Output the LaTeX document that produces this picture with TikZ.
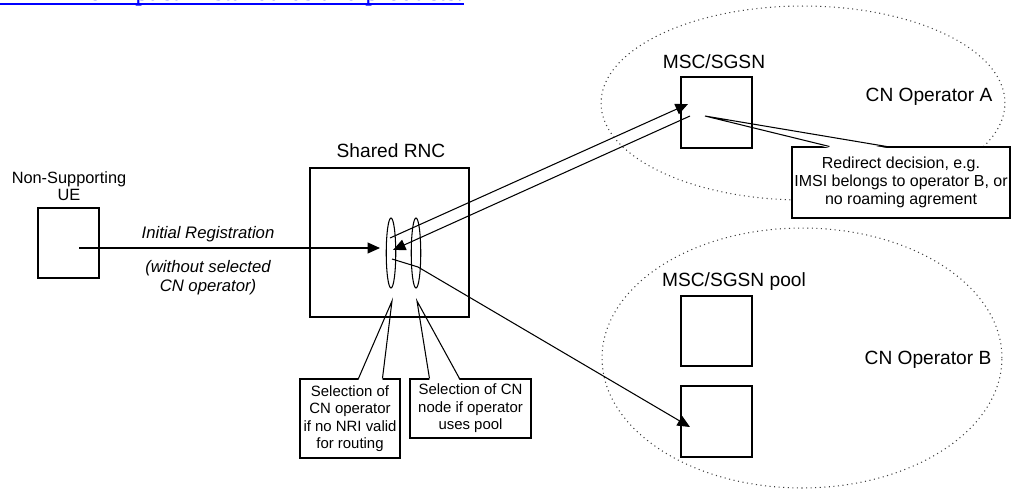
\documentclass[tikz,border=0pt]{standalone}
\usepackage{fontspec}
\setmainfont{Liberation Sans}
\newfontfamily\linkfont{Liberation Serif}
\usetikzlibrary{shapes,arrows.meta}

\begin{document}
\begin{tikzpicture}[x=0.02cm,y=-0.02cm,line width=0.6pt,inner sep=0pt,
  unit/.style={rectangle,draw=black},
  picker/.style={ellipse,draw=black,minimum width=0.19cm,minimum height=1.4cm},
  cnzone/.style={ellipse,draw=black!75,dotted,line width=0.6pt},
  note/.style={rectangle,draw=black,fill=white,align=center},
  big/.style={font=\fontsize{10.9}{13}\selectfont},
  msg/.style={-{Triangle[length=0.25cm,width=0.22cm]}}]
\useasboundingbox (0,0) rectangle (1012,491);
\clip (0,0) rectangle (1012,491);

% end of the page text above the figure
\node at (0,0) [anchor=base west,text=blue,font=\linkfont\fontsize{15.1}{18}\selectfont] (pageTxt) {minimize impact in standards and products.};
\draw[blue,line width=1.1pt] ([yshift=-0.074cm]pageTxt.base west) -- ([yshift=-0.074cm]pageTxt.base east);

% core networks
\node at (803,103) [cnzone,minimum width=8.08cm,minimum height=3.88cm] (opA) {};
\node at (802,358) [cnzone,minimum width=8cm,minimum height=5.2cm] (opB) {};

% callouts
\node at (901,182.5) [note,minimum width=4.36cm,minimum height=1.42cm,font=\fontsize{9.1}{10.2}\selectfont] (noteA) {Redirect decision, e.g.\\IMSI belongs to operator B, or\\no roaming agrement};
\node at (350,418.5) [note,minimum width=2cm,minimum height=1.58cm,font=\fontsize{8.5}{10}\selectfont] (noteSel) {Selection of\\CN operator\\if no NRI valid\\for routing};
\node at (470.5,408.5) [note,minimum width=2.42cm,minimum height=1.18cm,font=\fontsize{8.5}{10}\selectfont] (notePool) {Selection of CN\\node if operator\\uses pool};
\coordinate (tipA) at (705,116);
\coordinate (tipSel) at (392,301);
\coordinate (tipPool) at (417,301);
\fill[white] ([xshift=0.76cm,yshift=-0.03cm]noteA.north west) -- (tipA) -- ([xshift=1.9cm,yshift=-0.03cm]noteA.north west) -- cycle;
\draw ([xshift=0.76cm]noteA.north west) -- (tipA) -- ([xshift=1.9cm]noteA.north west);
\fill[white] ([xshift=1.18cm,yshift=-0.03cm]noteSel.north west) -- (tipSel) -- ([xshift=1.66cm,yshift=-0.03cm]noteSel.north west) -- cycle;
\draw ([xshift=1.18cm]noteSel.north west) -- (tipSel) -- ([xshift=1.66cm]noteSel.north west);
\fill[white] ([xshift=0.4cm,yshift=-0.03cm]notePool.north west) -- (tipPool) -- ([xshift=1cm,yshift=-0.03cm]notePool.north west) -- cycle;
\draw ([xshift=0.4cm]notePool.north west) -- (tipPool) -- ([xshift=1cm]notePool.north west);

% boxes
\node at (68.5,243) [unit,minimum width=1.22cm,minimum height=1.4cm] (ue) {};
\node at (389.5,242.5) [unit,minimum width=3.18cm,minimum height=2.98cm] (rnc) {};
\node at (716.5,112.5) [unit,minimum size=1.42cm] (msc) {};
\node at (716.5,331) [unit,minimum width=1.42cm,minimum height=1.4cm] (pool1) {};
\node at (716.5,421.5) [unit,minimum size=1.42cm] (pool2) {};
\node at (391,253) [picker] (selOp) {};
\node at (416,253) [picker] (selNode) {};

% labels
\node at (69,186) [align=center,font=\fontsize{9.3}{9.7}\selectfont] (ueName) {Non-Supporting\\UE};
\node at (391,157) [anchor=base,big] (rncName) {Shared RNC};
\node at (714,68) [anchor=base,big] (mscName) {MSC/SGSN};
\node at (734,286) [anchor=base,big] (poolName) {MSC/SGSN pool};
\node at (929,101) [anchor=base,big] (opAName) {CN Operator A};
\node at (928,364) [anchor=base,big] (opBName) {CN Operator B};
\node at (208,238) [anchor=base,font=\itshape\fontsize{9.5}{11}\selectfont] (regName) {Initial Registration};
\node at (208,278) [align=center,font=\itshape\fontsize{9.5}{10.8}\selectfont] (regNote) {(without selected\\CN operator)};

% signalling
\coordinate (ueOut) at (79,248);
\coordinate (rncIn) at (380,248);
\coordinate (rncUp) at (390,238);
\coordinate (mscIn) at (688,104);
\coordinate (mscOut) at (690,116);
\coordinate (rncBack) at (393,250);
\coordinate (rncDown) at (392,259);
\coordinate (bend) at (418,267);
\coordinate (poolIn) at (690,427);
\draw[msg] (ueOut) -- (rncIn);
\draw[msg] (rncUp) -- (mscIn);
\draw[msg] (mscOut) -- (rncBack);
\draw[msg] (rncDown) -- (bend) -- (poolIn);
\end{tikzpicture}
\end{document}
